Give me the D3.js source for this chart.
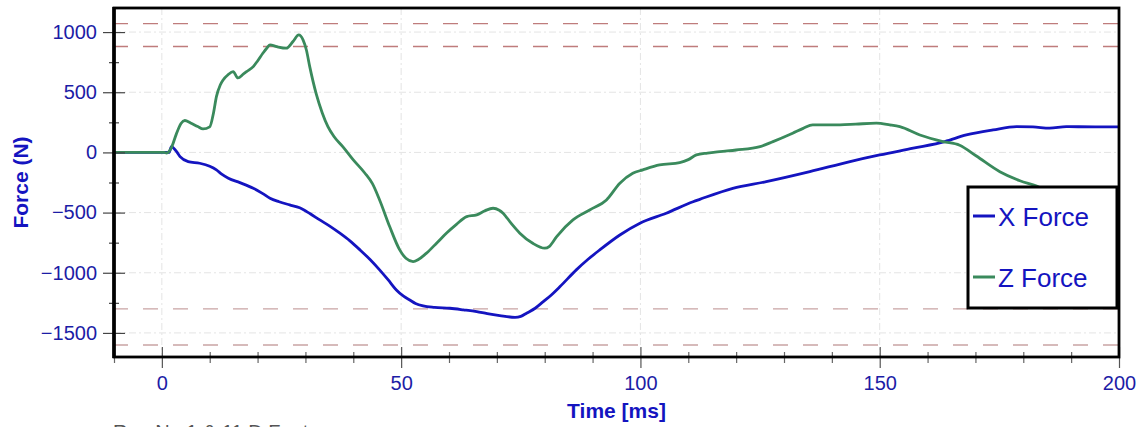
<!DOCTYPE html>
<html>
<head>
<meta charset="utf-8">
<script src="https://cdn.jsdelivr.net/npm/d3@7/dist/d3.min.js"></script>
<style>
  html, body { margin: 0; padding: 0; background: #fff; overflow: hidden; }
  svg { display: block; font-family: "Liberation Sans", Arial, sans-serif; }
</style>
</head>
<body>
<svg id="chart" width="1143" height="427"></svg>
<script>
// ---- data ----
const seriesNames = ["X Force", "Z Force"];
const xForceT = [-10, 1.5, 2, 3, 3.8, 5.5, 7.9, 10, 11.4, 12.5, 13.9, 16.3, 19.1, 21, 22.6, 24.5, 26.7, 28.8, 31, 33, 35, 37.2, 39.3, 41.4, 43.5, 45.5, 47.3, 49, 50.5, 51.8, 53, 54.6, 57, 60.2, 63, 65.8, 68, 70.6, 73.8, 75, 76.2, 78, 79.7, 81.5, 83.2, 86.6, 89, 91.5, 95.7, 99.9, 105.4, 111, 112.4, 119.3, 126.3, 135.4, 143.8, 150, 157, 163.6, 168.1, 173.7, 178.6, 182, 185.5, 189, 195, 200];
const xForceV = [0, 0, 48, 10, -35, -76, -90, -115, -145, -180, -214, -251, -298, -340, -381, -410, -436, -460, -510, -561, -610, -671, -735, -810, -890, -976, -1060, -1143, -1195, -1226, -1255, -1276, -1288, -1295, -1308, -1323, -1340, -1356, -1370, -1362, -1336, -1295, -1240, -1180, -1115, -976, -890, -810, -686, -588, -505, -410, -390, -298, -243, -160, -76, -21, 35, 90, 145, 187, 214, 212, 201, 214, 212, 212];
const zForceT = [-10, 0.5, 1, 2, 3, 4, 4.8, 6, 7.5, 8.6, 10, 10.8, 11.4, 12.2, 12.8, 13.8, 14.9, 15.9, 17, 17.7, 19.1, 20, 21.1, 22, 22.6, 24, 26, 27.4, 28.6, 29.5, 30.2, 30.9, 32.3, 33.5, 34.7, 36, 37.8, 40, 42.4, 44, 45.5, 47.6, 49.7, 51, 52.5, 55.3, 57.5, 59.5, 61.5, 63.7, 65.8, 67.5, 69.2, 70.5, 71.3, 73, 74.8, 77.5, 80, 81, 82.5, 85.9, 89.4, 92.9, 95.7, 98.4, 100.5, 104, 108.2, 110, 111.7, 114, 116.6, 120, 125, 127.7, 131.8, 134, 136, 141.7, 145, 149.3, 152.1, 154.2, 158.4, 163.2, 166.7, 170.2, 175.1, 179.3, 182.8, 190, 200];
const zForceV = [0, 0, -5, 40, 150, 240, 265, 245, 215, 195, 212, 330, 464, 560, 602, 644, 671, 619, 650, 671, 713, 760, 824, 870, 893, 879, 866, 921, 976, 935, 851, 713, 480, 330, 214, 130, 48, -62, -171, -260, -395, -616, -810, -880, -907, -837, -750, -670, -600, -533, -519, -485, -464, -480, -505, -590, -671, -755, -796, -780, -700, -561, -478, -395, -256, -173, -145, -104, -85, -60, -21, -5, 7, 20, 48, 90, 160, 200, 229, 229, 235, 243, 229, 214, 145, 90, 60, -30, -160, -235, -280, -430, -595];
const limitLines = [1070, 880, -1300, -1600];
const xMajorTicks = [0, 50, 100, 150, 200];
const xMinorTicks = [-10, 10, 20, 30, 40, 60, 70, 80, 90, 110, 120, 130, 140, 160, 170, 180, 190];
const yMajorTicks = [1000, 500, 0, -500, -1000, -1500];
const yMinorTicks = [750, 250, -250, -750, -1250];
const xLabel = "Time [ms]";
const yLabel = "Force (N)";
const footText = "Run No 1 & 11 D Foot";

// ---- layout ----
const L = 114, R = 1119, T = 8, B = 357;
const svg = d3.select("#chart");
const x = d3.scaleLinear().domain([-10, 200]).range([L, R]);
const y = d3.scaleLinear().domain([-1700, 1200]).range([B, T]);

const tickColor = "#1c1ca6";
const blue = "#1414c0";
const green = "#3a8a5c";

svg.append("defs").append("clipPath").attr("id", "clip")
  .append("rect").attr("x", L).attr("y", T).attr("width", R - L).attr("height", B - T);

// grid
const grid = svg.append("g");
grid.selectAll(".vg").data(xMajorTicks.filter(d => d < 200)).join("line")
  .attr("x1", d => x(d)).attr("x2", d => x(d)).attr("y1", T).attr("y2", B)
  .attr("stroke", "#e4e4e4").attr("stroke-width", 1).attr("stroke-dasharray", "7,3,2,3");
grid.selectAll(".hg").data(yMajorTicks).join("line")
  .attr("x1", L).attr("x2", R).attr("y1", d => y(d)).attr("y2", d => y(d))
  .attr("stroke", "#e4e4e4").attr("stroke-width", 1).attr("stroke-dasharray", "7,3,2,3");

// limit lines
svg.append("g").selectAll("line").data(limitLines).join("line")
  .attr("x1", L).attr("x2", R).attr("y1", d => y(d)).attr("y2", d => y(d))
  .attr("stroke", (d, i) => i < 2 ? "#bf7c7c" : "#c9a4a4")
  .attr("stroke-width", 1.4).attr("stroke-dasharray", "15,15").attr("stroke-dashoffset", 1);

// lines
const line = d3.line().x(d => x(d[0])).y(d => y(d[1])).curve(d3.curveMonotoneX);
const xData = xForceT.map((t, i) => [t, xForceV[i]]);
const zData = zForceT.map((t, i) => [t, zForceV[i]]);
const lines = svg.append("g").attr("clip-path", "url(#clip)");
lines.append("path").datum(xData).attr("d", line)
  .attr("fill", "none").attr("stroke", blue).attr("stroke-width", 2.8).attr("stroke-linejoin", "round");
lines.append("path").datum(zData).attr("d", line)
  .attr("fill", "none").attr("stroke", green).attr("stroke-width", 2.8).attr("stroke-linejoin", "round");

// axes
const yAxis = svg.append("g").attr("transform", `translate(${L},0)`)
  .call(d3.axisLeft(y).tickValues(yMajorTicks).tickSize(0).tickPadding(17).tickFormat(d3.format("d")));
yAxis.select(".domain").remove();
yAxis.selectAll("text").attr("fill", tickColor).attr("font-size", 20);

const yMinor = svg.append("g").attr("transform", `translate(${L},0)`)
  .call(d3.axisLeft(y).tickValues(yMinorTicks).tickFormat(""));
yMinor.select(".domain").remove();
yMinor.selectAll("line").attr("x1", 5).attr("x2", -5).attr("stroke", "#444").attr("stroke-width", 1.2);
yAxis.selectAll(".tick").append("line").attr("x1", 11).attr("x2", -11).attr("stroke", "#444").attr("stroke-width", 1.2);

const xAxis = svg.append("g").attr("transform", `translate(0,${B})`)
  .call(d3.axisBottom(x).tickValues(xMajorTicks).tickSize(0).tickPadding(19));
xAxis.select(".domain").remove();
xAxis.selectAll("text").attr("fill", tickColor).attr("font-size", 20);
xAxis.selectAll(".tick").append("line").attr("y1", -10).attr("y2", 11).attr("stroke", "#555").attr("stroke-width", 1.2);
const xMinor = svg.append("g").attr("transform", `translate(0,${B})`)
  .call(d3.axisBottom(x).tickValues(xMinorTicks).tickFormat(""));
xMinor.select(".domain").remove();
xMinor.selectAll("line").attr("y1", -5).attr("y2", 6).attr("stroke", "#666").attr("stroke-width", 1.2);

// frame
svg.append("rect").attr("x", L).attr("y", T).attr("width", R - L).attr("height", B - T)
  .attr("fill", "none").attr("stroke", "#000").attr("stroke-width", 2.8);
svg.append("line").attr("x1", L).attr("x2", L).attr("y1", T - 1).attr("y2", B + 1)
  .attr("stroke", "#000").attr("stroke-width", 3.6);

// axis titles
svg.append("text").attr("x", (L + R) / 2).attr("y", 418).attr("text-anchor", "middle")
  .attr("font-weight", "bold").attr("font-size", 21).attr("fill", blue).text(xLabel);
svg.append("text").attr("transform", `translate(28,${(T + B) / 2}) rotate(-90)`)
  .attr("text-anchor", "middle").attr("font-weight", "bold").attr("font-size", 21)
  .attr("fill", blue).text(yLabel);

// footer text (cut off by the window bottom, as in the reference)
svg.append("text").attr("x", 113).attr("y", 439).attr("font-size", 20).attr("fill", "#555").text(footText);

// legend
const lg = svg.append("g");
lg.append("rect").attr("x", 968).attr("y", 187).attr("width", 149).attr("height", 121)
  .attr("fill", "#fff").attr("stroke", "#000").attr("stroke-width", 3);
const legendColors = [blue, green];
const legendY = [216, 277];
seriesNames.forEach((n, i) => {
  lg.append("line").attr("x1", 973).attr("x2", 995).attr("y1", legendY[i]).attr("y2", legendY[i])
    .attr("stroke", legendColors[i]).attr("stroke-width", 3);
  lg.append("text").attr("x", 998).attr("y", legendY[i] + 10).attr("font-size", 26)
    .attr("fill", blue).text(n);
});
</script>
</body>
</html>
